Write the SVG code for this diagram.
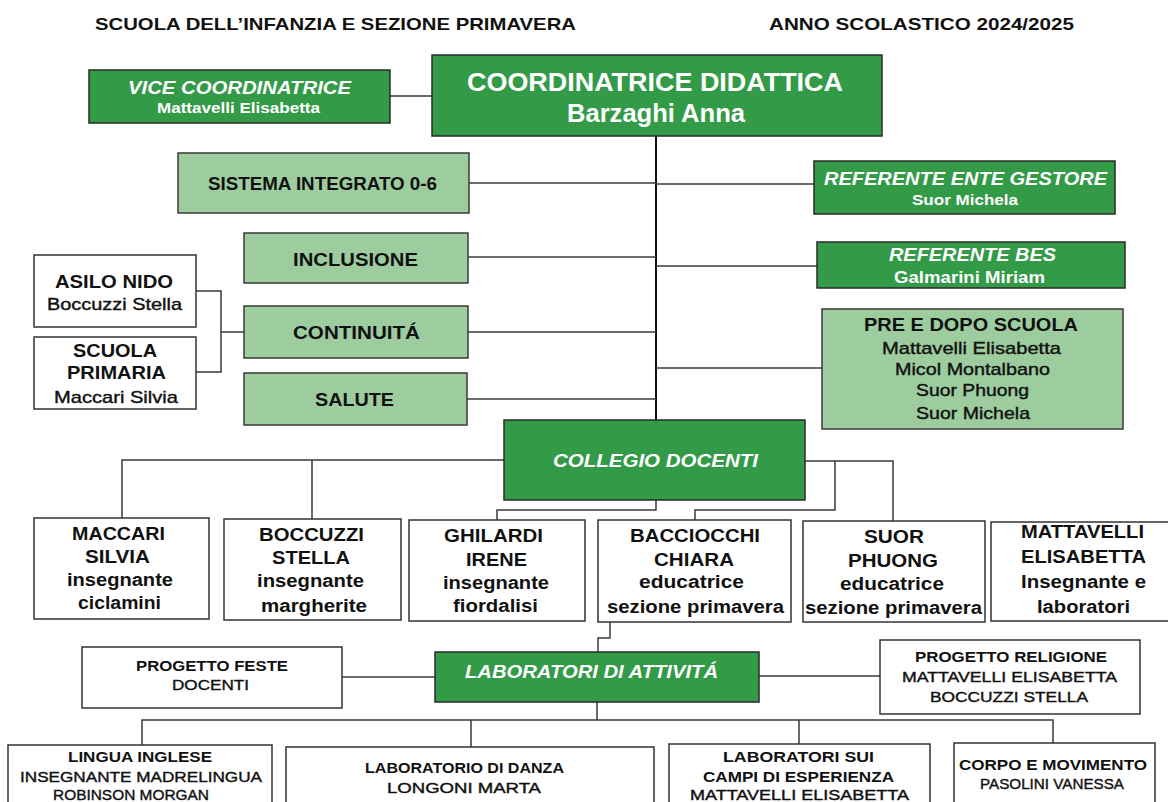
<svg xmlns="http://www.w3.org/2000/svg" width="1168" height="802" viewBox="0 0 1168 802">
  <style>
    text { font-family: "Liberation Sans", Arial, sans-serif; fill: #111; }
    .dk { fill: #339a48; stroke: #2a2a2a; stroke-width: 1.5; }
    .lt { fill: #9dcd9f; stroke: #3a3a3a; stroke-width: 1.5; }
    .wh { fill: #ffffff; stroke: #333; stroke-width: 1.5; }
    .ln { fill: none; stroke: #3a3a3a; stroke-width: 1.5; }
    .trunk { fill: none; stroke: #111; stroke-width: 2; }
    .w { fill: #ffffff; }
    .b { font-weight: bold; }
    .m { stroke: #111; stroke-width: 0.4; }
    .i { font-style: italic; }
    .c { text-anchor: middle; }
    .s18 { font-size: 18px; }
    .s17 { font-size: 17px; }
    .s15 { font-size: 15px; }
    .s14 { font-size: 14px; }
  </style>

  <rect width="1168" height="802" fill="#ffffff"/>

  <!-- header -->
  <g id="header">
    <text x="95" y="30" class="b s17" textLength="481" lengthAdjust="spacingAndGlyphs">SCUOLA DELL’INFANZIA E SEZIONE PRIMAVERA</text>
    <text x="769" y="30" class="b s17" textLength="305" lengthAdjust="spacingAndGlyphs">ANNO SCOLASTICO 2024/2025</text>
  </g>

  <!-- connectors -->
  <g id="connectors">
    <path class="ln" d="M390,96 H432"/>
    <path class="trunk" d="M656,136 V420"/>
    <path class="ln" d="M469,183 H656"/>
    <path class="ln" d="M656,184 H814"/>
    <path class="ln" d="M468,257 H656"/>
    <path class="ln" d="M656,266 H817"/>
    <path class="ln" d="M468,332 H656"/>
    <path class="ln" d="M656,368 H822"/>
    <path class="ln" d="M467,399 H656"/>
    <path class="ln" d="M196,291 H221 V372 H196"/>
    <path class="ln" d="M221,332 H244"/>
    <path class="ln" d="M504,460 H122 V518"/>
    <path class="ln" d="M312,460 V519"/>
    <path class="ln" d="M656,500 V510 H497 V520"/>
    <path class="ln" d="M805,461 H893 V521"/>
    <path class="ln" d="M835,461 V510 H695 V520"/>
    <path class="ln" d="M610,622 V638 H598 V652"/>
    <path class="ln" d="M342,677 H435"/>
    <path class="ln" d="M759,676 H880"/>
    <path class="ln" d="M597,702 V720"/>
    <path class="ln" d="M142,745 V720 H1053 V743"/>
    <path class="ln" d="M471,720 V747"/>
    <path class="ln" d="M799,720 V744"/>
  </g>

  <!-- top level -->
  <g id="coordinatrice">
    <rect class="dk" x="432" y="55" width="450" height="81"/>
    <text x="467" y="91" class="w b" font-size="25" textLength="376" lengthAdjust="spacingAndGlyphs">COORDINATRICE DIDATTICA</text>
    <text x="567" y="122" class="w b" font-size="25" textLength="178" lengthAdjust="spacingAndGlyphs">Barzaghi Anna</text>
  </g>

  <g id="vice-coordinatrice">
    <rect class="dk" x="89" y="70" width="301" height="53"/>
    <text x="128" y="94" class="w b i s18" textLength="223" lengthAdjust="spacingAndGlyphs">VICE COORDINATRICE</text>
    <text x="157" y="113" class="w b s14" textLength="163" lengthAdjust="spacingAndGlyphs">Mattavelli Elisabetta</text>
  </g>

  <g id="sistema-integrato">
    <rect class="lt" x="178" y="153" width="291" height="60"/>
    <text x="208" y="190" class="b s18" textLength="229" lengthAdjust="spacingAndGlyphs">SISTEMA INTEGRATO 0-6</text>
  </g>

  <g id="referente-ente">
    <rect class="dk" x="814" y="161" width="301" height="53"/>
    <text x="824" y="185" class="w b i s18" textLength="283" lengthAdjust="spacingAndGlyphs">REFERENTE ENTE GESTORE</text>
    <text x="912" y="205" class="w b s14" textLength="106" lengthAdjust="spacingAndGlyphs">Suor Michela</text>
  </g>

  <g id="inclusione">
    <rect class="lt" x="244" y="233" width="224" height="50"/>
    <text x="293" y="266" class="b s18" textLength="125" lengthAdjust="spacingAndGlyphs">INCLUSIONE</text>
  </g>

  <g id="referente-bes">
    <rect class="dk" x="817" y="242" width="308" height="46"/>
    <text x="889" y="261" class="w b i s18" textLength="167" lengthAdjust="spacingAndGlyphs">REFERENTE BES</text>
    <text x="894" y="283" class="w b s17" textLength="151" lengthAdjust="spacingAndGlyphs">Galmarini Miriam</text>
  </g>

  <g id="continuita">
    <rect class="lt" x="244" y="306" width="224" height="52"/>
    <text x="293" y="339" class="b s18" textLength="127" lengthAdjust="spacingAndGlyphs">CONTINUITÁ</text>
  </g>

  <g id="salute">
    <rect class="lt" x="244" y="373" width="223" height="52"/>
    <text x="315" y="406" class="b s18" textLength="79" lengthAdjust="spacingAndGlyphs">SALUTE</text>
  </g>

  <g id="asilo-nido">
    <rect class="wh" x="34" y="255" width="162" height="72"/>
    <text x="55" y="288" class="b s18" textLength="118" lengthAdjust="spacingAndGlyphs">ASILO NIDO</text>
    <text x="47" y="310" class="m s17" textLength="135" lengthAdjust="spacingAndGlyphs">Boccuzzi Stella</text>
  </g>

  <g id="scuola-primaria">
    <rect class="wh" x="34" y="337" width="162" height="72"/>
    <text x="73" y="357" class="b s18" textLength="84" lengthAdjust="spacingAndGlyphs">SCUOLA</text>
    <text x="67" y="379" class="b s18" textLength="99" lengthAdjust="spacingAndGlyphs">PRIMARIA</text>
    <text x="54" y="403" class="m s17" textLength="124" lengthAdjust="spacingAndGlyphs">Maccari Silvia</text>
  </g>

  <g id="pre-dopo-scuola">
    <rect class="lt" x="822" y="309" width="301" height="120"/>
    <text x="864" y="331" class="b s18" textLength="214" lengthAdjust="spacingAndGlyphs">PRE E DOPO SCUOLA</text>
    <text x="882" y="354" class="m s17" textLength="179" lengthAdjust="spacingAndGlyphs">Mattavelli Elisabetta</text>
    <text x="895" y="375" class="m s17" textLength="155" lengthAdjust="spacingAndGlyphs">Micol Montalbano</text>
    <text x="916" y="396" class="m s17" textLength="113" lengthAdjust="spacingAndGlyphs">Suor Phuong</text>
    <text x="916" y="419" class="m s17" textLength="114" lengthAdjust="spacingAndGlyphs">Suor Michela</text>
  </g>

  <!-- collegio docenti -->
  <g id="collegio-docenti">
    <rect class="dk" x="504" y="420" width="301" height="80"/>
    <text x="553" y="467" class="w b i s18" textLength="205" lengthAdjust="spacingAndGlyphs">COLLEGIO DOCENTI</text>
  </g>

  <g id="maccari">
    <rect class="wh" x="34" y="518" width="175" height="101"/>
    <text x="118.5" y="540" class="c b s18" textLength="93" lengthAdjust="spacingAndGlyphs">MACCARI</text>
    <text x="117.5" y="563" class="c b s18" textLength="65" lengthAdjust="spacingAndGlyphs">SILVIA</text>
    <text x="120" y="586" class="c b s18" textLength="106" lengthAdjust="spacingAndGlyphs">insegnante</text>
    <text x="119.5" y="609" class="c b s18" textLength="83" lengthAdjust="spacingAndGlyphs">ciclamini</text>
  </g>

  <g id="boccuzzi">
    <rect class="wh" x="224" y="519" width="177" height="101"/>
    <text x="311.5" y="541" class="c b s18" textLength="105" lengthAdjust="spacingAndGlyphs">BOCCUZZI</text>
    <text x="311" y="564" class="c b s18" textLength="78" lengthAdjust="spacingAndGlyphs">STELLA</text>
    <text x="310.5" y="587" class="c b s18" textLength="107" lengthAdjust="spacingAndGlyphs">insegnante</text>
    <text x="314" y="612" class="c b s18" textLength="106" lengthAdjust="spacingAndGlyphs">margherite</text>
  </g>

  <g id="ghilardi">
    <rect class="wh" x="409" y="520" width="176" height="101"/>
    <text x="493.5" y="542" class="c b s18" textLength="99" lengthAdjust="spacingAndGlyphs">GHILARDI</text>
    <text x="496.5" y="566" class="c b s18" textLength="61" lengthAdjust="spacingAndGlyphs">IRENE</text>
    <text x="496" y="589" class="c b s18" textLength="106" lengthAdjust="spacingAndGlyphs">insegnante</text>
    <text x="495.5" y="612" class="c b s18" textLength="85" lengthAdjust="spacingAndGlyphs">fiordalisi</text>
  </g>

  <g id="bacciocchi">
    <rect class="wh" x="598" y="520" width="193" height="102"/>
    <text x="695" y="542" class="c b s18" textLength="130" lengthAdjust="spacingAndGlyphs">BACCIOCCHI</text>
    <text x="694" y="566" class="c b s18" textLength="80" lengthAdjust="spacingAndGlyphs">CHIARA</text>
    <text x="691.5" y="588" class="c b s18" textLength="105" lengthAdjust="spacingAndGlyphs">educatrice</text>
    <text x="695.5" y="613" class="c b s18" textLength="177" lengthAdjust="spacingAndGlyphs">sezione primavera</text>
  </g>

  <g id="suor-phuong">
    <rect class="wh" x="803" y="521" width="182" height="101"/>
    <text x="894" y="543" class="c b s18" textLength="60" lengthAdjust="spacingAndGlyphs">SUOR</text>
    <text x="893" y="567" class="c b s18" textLength="90" lengthAdjust="spacingAndGlyphs">PHUONG</text>
    <text x="892" y="590" class="c b s18" textLength="104" lengthAdjust="spacingAndGlyphs">educatrice</text>
    <text x="893.5" y="614" class="c b s18" textLength="177" lengthAdjust="spacingAndGlyphs">sezione primavera</text>
  </g>

  <g id="mattavelli">
    <rect class="wh" x="991" y="522" width="180" height="99"/>
    <text x="1082.5" y="538" class="c b s18" textLength="123" lengthAdjust="spacingAndGlyphs">MATTAVELLI</text>
    <text x="1083.5" y="563" class="c b s18" textLength="125" lengthAdjust="spacingAndGlyphs">ELISABETTA</text>
    <text x="1083.5" y="588" class="c b s18" textLength="125" lengthAdjust="spacingAndGlyphs">Insegnante e</text>
    <text x="1083.5" y="613" class="c b s18" textLength="93" lengthAdjust="spacingAndGlyphs">laboratori</text>
  </g>

  <!-- laboratori -->
  <g id="progetto-feste">
    <rect class="wh" x="82" y="647" width="260" height="61"/>
    <text x="212" y="671" class="c b s15" textLength="152" lengthAdjust="spacingAndGlyphs">PROGETTO FESTE</text>
    <text x="210.5" y="690" class="c m s15" textLength="77" lengthAdjust="spacingAndGlyphs">DOCENTI</text>
  </g>

  <g id="laboratori-attivita">
    <rect class="dk" x="435" y="652" width="324" height="50"/>
    <text x="465" y="678" class="w b i s18" textLength="253" lengthAdjust="spacingAndGlyphs">LABORATORI DI ATTIVITÁ</text>
  </g>

  <g id="progetto-religione">
    <rect class="wh" x="880" y="640" width="260" height="74"/>
    <text x="1011" y="662" class="c b s15" textLength="192" lengthAdjust="spacingAndGlyphs">PROGETTO RELIGIONE</text>
    <text x="1009.5" y="682" class="c m s15" textLength="215" lengthAdjust="spacingAndGlyphs">MATTAVELLI ELISABETTA</text>
    <text x="1009" y="702" class="c m s15" textLength="158" lengthAdjust="spacingAndGlyphs">BOCCUZZI STELLA</text>
  </g>

  <g id="lingua-inglese">
    <rect class="wh" x="8" y="745" width="264" height="70"/>
    <text x="140" y="762" class="c b s15" textLength="144" lengthAdjust="spacingAndGlyphs">LINGUA INGLESE</text>
    <text x="141" y="782" class="c m s15" textLength="242" lengthAdjust="spacingAndGlyphs">INSEGNANTE MADRELINGUA</text>
    <text x="131" y="800" class="c m s15" textLength="156" lengthAdjust="spacingAndGlyphs">ROBINSON MORGAN</text>
  </g>

  <g id="laboratorio-danza">
    <rect class="wh" x="286" y="747" width="368" height="70"/>
    <text x="464.5" y="773" class="c b s15" textLength="199" lengthAdjust="spacingAndGlyphs">LABORATORIO DI DANZA</text>
    <text x="464" y="793" class="c m s15" textLength="154" lengthAdjust="spacingAndGlyphs">LONGONI MARTA</text>
  </g>

  <g id="campi-esperienza">
    <rect class="wh" x="669" y="744" width="261" height="70"/>
    <text x="798.5" y="762" class="c b s15" textLength="151" lengthAdjust="spacingAndGlyphs">LABORATORI SUI</text>
    <text x="798.5" y="782" class="c b s15" textLength="191" lengthAdjust="spacingAndGlyphs">CAMPI DI ESPERIENZA</text>
    <text x="799.5" y="800" class="c m s15" textLength="219" lengthAdjust="spacingAndGlyphs">MATTAVELLI ELISABETTA</text>
  </g>

  <g id="corpo-movimento">
    <rect class="wh" x="954" y="743" width="201" height="70"/>
    <text x="1053" y="770" class="c b s15" textLength="188" lengthAdjust="spacingAndGlyphs">CORPO E MOVIMENTO</text>
    <text x="1052" y="789" class="c m s15" textLength="144" lengthAdjust="spacingAndGlyphs">PASOLINI VANESSA</text>
  </g>
</svg>
